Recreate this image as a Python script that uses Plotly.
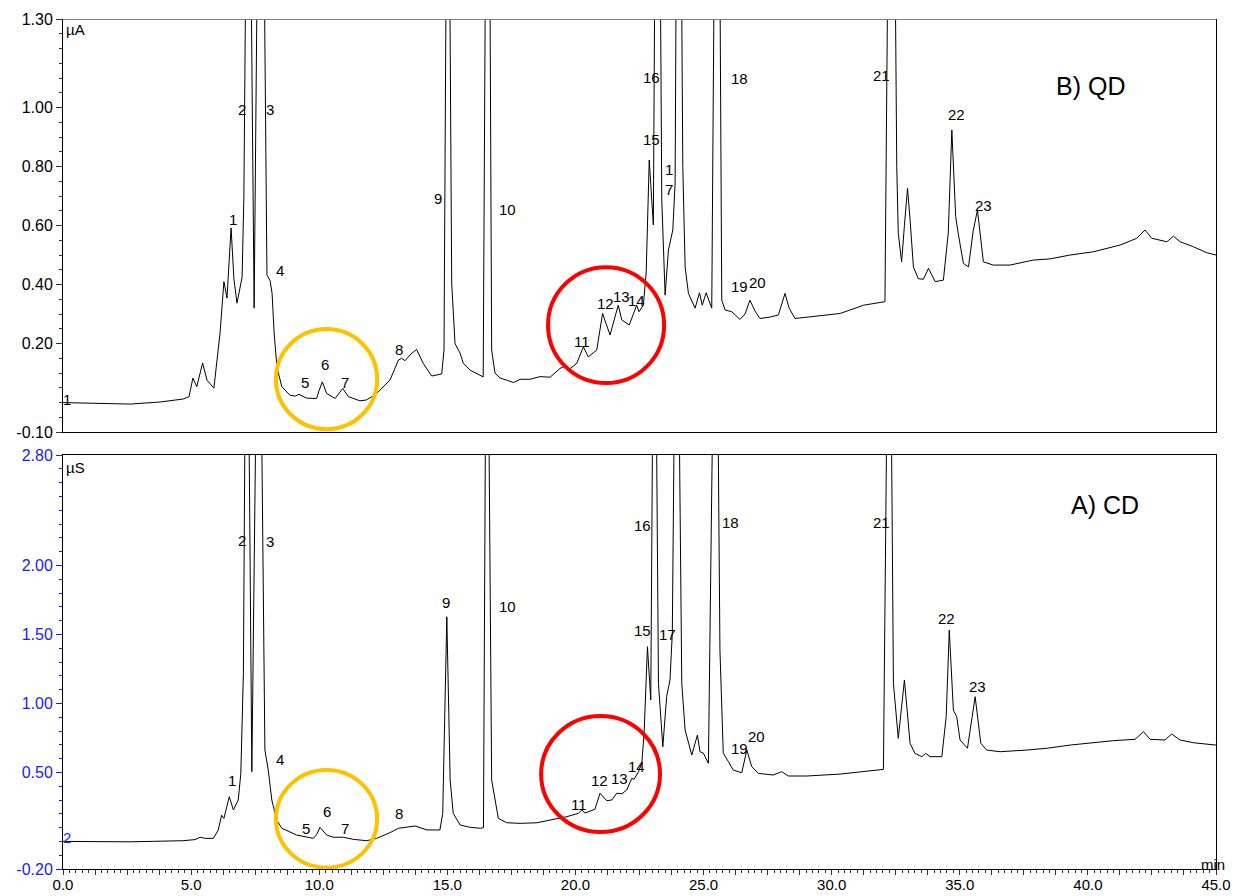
import plotly.graph_objects as go

# ---------------- data ----------------
# B) QD trace (top panel), time in min, signal in µA
qd_time = [0.00, 2.62, 3.79, 4.68, 4.92, 5.07, 5.22, 5.45, 5.62, 5.74, 5.89, 6.13, 6.28, 6.40, 6.56, 6.67,
           6.79, 6.99, 7.06, 7.23, 7.46, 7.72, 7.96, 8.08, 8.16, 8.24, 8.35, 8.54, 8.86, 9.06, 9.21, 9.51,
           9.90, 9.99, 10.12, 10.29, 10.62, 10.92, 11.14, 11.59, 11.85, 12.24, 12.76, 13.09, 13.22, 13.35,
           13.58, 13.80, 14.06, 14.39, 14.59, 14.78, 14.87, 15.02, 15.17, 15.30, 15.50, 15.62, 15.89, 16.40,
           16.58, 16.73, 16.86, 17.06, 17.32, 17.58, 17.84, 18.23, 18.62, 19.01, 19.40, 19.53, 19.72, 20.05,
           20.31, 20.50, 20.83, 21.06, 21.35, 21.67, 21.81, 22.10, 22.39, 22.48, 22.65, 22.76, 22.88, 23.04,
           23.20, 23.37, 23.50, 23.63, 23.80, 23.89, 24.02, 24.19, 24.28, 24.41, 24.67, 24.84, 24.95, 25.10,
           25.32, 25.54, 25.71, 25.84, 26.10, 26.42, 26.62, 26.81, 27.01, 27.20, 27.60, 27.92, 28.18, 28.34,
           28.57, 29.42, 30.33, 31.24, 32.08, 32.34, 32.54, 32.60, 32.73, 32.84, 32.96, 33.06, 33.19, 33.38,
           33.58, 33.78, 34.04, 34.36, 34.55, 34.69, 34.84, 34.94, 35.14, 35.34, 35.52, 35.69, 35.81, 35.92,
           36.31, 36.96, 37.87, 38.52, 39.30, 40.21, 41.26, 41.91, 42.23, 42.49, 43.08, 43.34, 43.60, 44.12,
           44.64, 45.00]
qd_signal = [0.000, -0.005, 0.002, 0.012, 0.020, 0.083, 0.054, 0.134, 0.076, 0.065, 0.049, 0.236, 0.410, 0.354,
             0.592, 0.420, 0.337, 0.425, 0.700, 2.500, 0.320, 2.800, 0.432, 0.415, 0.370, 0.236, 0.120, 0.054,
             0.025, 0.022, 0.028, 0.015, 0.014, 0.040, 0.070, 0.031, 0.014, 0.048, 0.020, 0.006, 0.009, 0.031,
             0.076, 0.144, 0.150, 0.142, 0.165, 0.180, 0.133, 0.090, 0.093, 0.097, 0.178, 2.500, 0.405, 0.200,
             0.167, 0.134, 0.110, 0.087, 3.000, 0.178, 0.100, 0.083, 0.076, 0.068, 0.079, 0.079, 0.088, 0.086,
             0.116, 0.121, 0.110, 0.133, 0.189, 0.155, 0.178, 0.302, 0.229, 0.330, 0.280, 0.263, 0.330, 0.308,
             0.330, 0.439, 0.822, 0.602, 3.000, 0.686, 0.364, 0.517, 0.585, 0.744, 3.000, 0.800, 0.460, 0.370,
             0.320, 0.372, 0.330, 0.372, 0.320, 3.000, 0.347, 0.314, 0.308, 0.282, 0.300, 0.347, 0.310, 0.285,
             0.290, 0.297, 0.370, 0.320, 0.285, 0.293, 0.302, 0.330, 0.342, 3.000, 0.800, 0.574, 0.477, 0.600,
             0.726, 0.620, 0.460, 0.420, 0.418, 0.455, 0.410, 0.415, 0.574, 0.924, 0.630, 0.573, 0.472, 0.460,
             0.580, 0.653, 0.560, 0.477, 0.466, 0.466, 0.483, 0.487, 0.500, 0.511, 0.534, 0.557, 0.585, 0.557,
             0.545, 0.564, 0.545, 0.528, 0.508, 0.500]

# A) CD trace (bottom panel), time in min, signal in µS
cd_time = [0.00, 2.62, 4.68, 5.15, 5.35, 5.55, 5.87, 6.06, 6.19, 6.28, 6.49, 6.65, 6.84, 6.94, 7.04, 7.17,
           7.37, 7.645, 7.88, 8.01, 8.15, 8.34, 8.54, 9.12, 9.77, 9.90, 10.03, 10.29, 10.55, 10.94, 11.33,
           11.85, 12.24, 12.76, 13.09, 13.74, 14.20, 14.71, 14.82, 14.98, 15.11, 15.23, 15.50, 15.89, 16.30,
           16.41, 16.54, 16.73, 16.99, 17.32, 17.84, 18.49, 19.01, 19.66, 20.11, 20.25, 20.37, 20.76, 20.96,
           21.22, 21.42, 21.61, 21.81, 22.00, 22.20, 22.29, 22.46, 22.59, 22.68, 22.81, 22.94, 23.08, 23.24,
           23.41, 23.56, 23.69, 23.78, 23.95, 24.15, 24.28, 24.54, 24.65, 24.76, 24.86, 24.99, 25.19, 25.48,
           25.64, 25.77, 25.97, 26.16, 26.49, 26.69, 26.88, 27.14, 27.72, 28.05, 28.31, 29.03, 30.33, 31.24,
           32.02, 32.25, 32.41, 32.60, 32.84, 33.06, 33.25, 33.52, 33.67, 33.84, 34.30, 34.47, 34.59, 34.75,
           34.88, 35.01, 35.30, 35.60, 35.82, 36.05, 36.57, 37.61, 38.40, 39.30, 40.21, 40.99, 41.84, 42.17,
           42.43, 43.01, 43.27, 43.60, 44.12, 45.00]
cd_signal = [0.000, -0.003, 0.005, 0.013, 0.030, 0.022, 0.022, 0.083, 0.190, 0.167, 0.324, 0.228, 0.300, 0.493,
             1.218, 5.000, 0.505, 5.000, 0.662, 0.517, 0.300, 0.155, 0.095, 0.046, 0.022, 0.050, 0.102, 0.046,
             0.030, 0.030, 0.015, 0.005, 0.022, 0.063, 0.095, 0.112, 0.083, 0.083, 0.203, 1.628, 0.445, 0.203,
             0.119, 0.102, 0.095, 0.100, 5.000, 0.445, 0.167, 0.135, 0.131, 0.135, 0.155, 0.179, 0.203, 0.228,
             0.205, 0.233, 0.349, 0.295, 0.300, 0.349, 0.345, 0.372, 0.457, 0.450, 0.505, 0.566, 0.783, 1.411,
             1.025, 5.000, 1.146, 0.686, 1.049, 1.170, 1.508, 5.000, 1.146, 0.807, 0.626, 0.700, 0.771, 0.650,
             0.640, 0.566, 5.000, 1.387, 0.638, 0.578, 0.517, 0.498, 0.662, 0.541, 0.493, 0.481, 0.505, 0.474,
             0.474, 0.488, 0.505, 0.522, 5.000, 1.146, 0.747, 1.170, 0.711, 0.638, 0.614, 0.638, 0.614, 0.614,
             0.904, 1.532, 0.952, 0.904, 0.735, 0.675, 1.049, 0.711, 0.662, 0.650, 0.662, 0.675, 0.698, 0.715,
             0.730, 0.740, 0.795, 0.740, 0.735, 0.778, 0.735, 0.715, 0.698]

assert len(qd_time) == len(qd_signal), (len(qd_time), len(qd_signal))
assert len(cd_time) == len(cd_signal), (len(cd_time), len(cd_signal))

# peak labels: (text, time, signal)
qd_labels = [("1", 6.64, 0.619), ("2", 6.99, 0.995), ("3", 8.08, 0.995), ("4", 8.47, 0.449),
             ("5", 9.45, 0.069), ("6", 10.23, 0.130), ("7", 11.01, 0.069), ("8", 13.11, 0.181),
             ("9", 14.64, 0.693), ("10", 17.33, 0.656), ("11", 20.26, 0.208), ("12", 21.19, 0.337),
             ("13", 21.78, 0.361), ("14", 22.40, 0.347), ("15", 22.95, 0.893), ("16", 22.95, 1.103),
             ("1<br>7", 23.65, 0.755), ("18", 26.39, 1.097), ("19", 26.39, 0.395), ("20", 27.09, 0.408),
             ("21", 31.93, 1.110), ("22", 34.89, 0.975), ("23", 35.91, 0.669)]
cd_labels = [("1", 6.60, 0.438), ("2", 6.99, 2.184), ("3", 8.08, 2.177), ("4", 8.47, 0.597),
             ("5", 9.48, 0.097), ("6", 10.30, 0.220), ("7", 11.01, 0.097), ("8", 13.11, 0.199),
             ("9", 14.95, 1.728), ("10", 17.33, 1.706), ("11", 20.14, 0.264), ("12", 20.92, 0.438),
             ("13", 21.70, 0.459), ("14", 22.37, 0.546), ("15", 22.60, 1.532), ("16", 22.60, 2.293),
             ("17", 23.58, 1.496), ("18", 26.07, 2.314), ("19", 26.39, 0.670), ("20", 27.05, 0.757),
             ("21", 31.93, 2.314), ("22", 34.47, 1.612), ("23", 35.71, 1.126)]

x_tick_vals = [i * 1.25 for i in range(37)]
x_tick_text = [f"{v:.1f}" if abs(v % 5) < 1e-9 else "" for v in x_tick_vals]
qd_tick_vals = [-0.10, 0.20, 0.40, 0.60, 0.80, 1.00, 1.30]
qd_tick_text = ["-0.10", "0.20", "0.40", "0.60", "0.80", "1.00", "1.30"]
cd_tick_vals = [-0.20, 0.50, 1.00, 1.50, 2.00, 2.80]
cd_tick_text = ["-0.20", "0.50", "1.00", "1.50", "2.00", "2.80"]

FONT = "Liberation Sans, Arial, sans-serif"
BLUE = "#1a1aff"
LBL = 15

fig = go.Figure()
fig.add_trace(go.Scatter(x=qd_time, y=qd_signal, mode="lines", line=dict(color="black", width=1),
                         xaxis="x2", yaxis="y2", showlegend=False, hoverinfo="skip"))
fig.add_trace(go.Scatter(x=cd_time, y=cd_signal, mode="lines", line=dict(color="black", width=1),
                         xaxis="x", yaxis="y", showlegend=False, hoverinfo="skip"))

annotations = []
for txt, t, v in qd_labels:
    annotations.append(dict(text=txt, x=t, y=v, xref="x2", yref="y2", showarrow=False,
                            font=dict(size=LBL, color="black", family=FONT)))
for txt, t, v in cd_labels:
    annotations.append(dict(text=txt, x=t, y=v, xref="x", yref="y", showarrow=False,
                            font=dict(size=LBL, color="black", family=FONT)))
annotations += [
    dict(text="B) QD", x=40.09, y=1.073, xref="x2", yref="y2", showarrow=False,
         font=dict(size=25, color="black", family=FONT)),
    dict(text="A) CD", x=40.67, y=2.438, xref="x", yref="y", showarrow=False,
         font=dict(size=25, color="black", family=FONT)),
    dict(text="µA", x=0.02, y=1.266, xref="x2", yref="y2", showarrow=False, xanchor="left",
         font=dict(size=LBL, color="black", family=FONT)),
    dict(text="µS", x=0.02, y=2.713, xref="x", yref="y", showarrow=False, xanchor="left",
         font=dict(size=LBL, color="black", family=FONT)),
    dict(text="1", x=0.14, y=0.01, xref="x2", yref="y2", showarrow=False,
         font=dict(size=LBL, color="black", family=FONT)),
    dict(text="2", x=0.14, y=0.025, xref="x", yref="y", showarrow=False,
         font=dict(size=LBL, color=BLUE, family=FONT)),
    dict(text="min", x=44.9, y=-0.165, xref="x", yref="y", showarrow=False,
         font=dict(size=LBL, color="black", family=FONT)),
]

shapes = [
    # grey top border of the QD panel
    dict(type="line", xref="paper", yref="y2", x0=0, x1=1, y0=1.30, y1=1.30,
         line=dict(color="#808080", width=2)),
    # highlight circles
    dict(type="circle", xref="x2", yref="y2", x0=8.31, x1=12.26, y0=-0.090, y1=0.249,
         line=dict(color="#FFC000", width=4), layer="above"),
    dict(type="circle", xref="x2", yref="y2", x0=18.93, x1=23.46, y0=0.066, y1=0.459,
         line=dict(color="#FF0000", width=4), layer="above"),
    dict(type="circle", xref="x", yref="y", x0=8.31, x1=12.26, y0=-0.19, y1=0.517,
         line=dict(color="#FFC000", width=4), layer="above"),
    dict(type="circle", xref="x", yref="y", x0=18.66, x1=23.30, y0=0.068, y1=0.909,
         line=dict(color="#FF0000", width=4), layer="above"),
]

tickfont = dict(size=16, family=FONT, color="black")
fig.update_layout(
    width=1240, height=896,
    margin=dict(l=63, r=24, t=19, b=27, autoexpand=False),
    paper_bgcolor="white", plot_bgcolor="white",
    font=dict(family=FONT),
    xaxis=dict(domain=[0, 1], range=[0, 45], anchor="y", tickmode="array", automargin=False,
               tickvals=x_tick_vals, ticktext=x_tick_text, ticks="outside", ticklen=5,
               ticklabelstandoff=-3,
               tickcolor="#333", tickfont=dict(size=15, family=FONT, color="black"),
               showgrid=False, zeroline=False,
               showline=True, linecolor="black", linewidth=1, mirror=True,
               minor=dict(dtick=0.25, tick0=0, ticks="outside", ticklen=3, tickcolor="#333", showgrid=False)),
    yaxis=dict(domain=[0, 0.487], range=[-0.20, 2.80], anchor="x", tickmode="array", automargin=False,
               tickvals=cd_tick_vals, ticktext=cd_tick_text, ticks="outside", ticklen=6,
               tickcolor=BLUE, tickfont=dict(size=16, family=FONT, color=BLUE), showgrid=False,
               zeroline=False, showline=True, linecolor="black", linewidth=1, mirror=True,
               minor=dict(dtick=0.1, tick0=0, ticks="outside", ticklen=3, tickcolor=BLUE, showgrid=False)),
    xaxis2=dict(domain=[0, 1], range=[0, 45], anchor="y2", showticklabels=False, ticks="", automargin=False,
                showgrid=False, zeroline=False, showline=True, linecolor="black", linewidth=1),
    yaxis2=dict(domain=[0.514, 1], range=[-0.10, 1.30], anchor="x2", tickmode="array", automargin=False,
                tickvals=qd_tick_vals, ticktext=qd_tick_text, ticks="outside", ticklen=6,
                tickcolor="#333", tickfont=tickfont, showgrid=False, zeroline=False,
                showline=True, linecolor="black", linewidth=1, mirror=True,
                minor=dict(dtick=0.05, tick0=0, ticks="outside", ticklen=3, tickcolor="#333", showgrid=False)),
    annotations=annotations,
    shapes=shapes,
)

fig.write_html("out.html")
